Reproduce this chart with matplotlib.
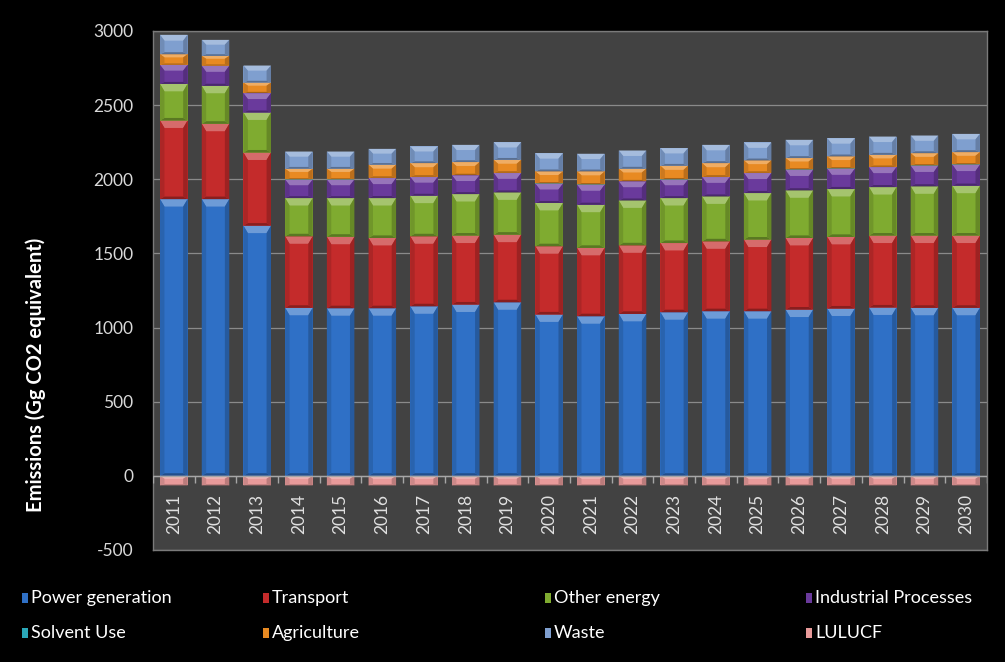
import matplotlib.pyplot as plt
import numpy as np
from matplotlib.patches import Polygon, Rectangle
from matplotlib.colors import to_rgb

years = [str(y) for y in range(2011, 2031)]

power = [1866, 1866, 1687, 1133, 1130, 1130, 1143, 1155, 1170, 1088,
         1076, 1092, 1103, 1110, 1110, 1121, 1128, 1135, 1133, 1133]
transport = [530, 508, 493, 482, 482, 474, 472, 465, 456, 460,
             461, 462, 467, 471, 483, 483, 483, 485, 487, 487]
other_energy = [247, 256, 270, 258, 261, 269, 274, 280, 285, 292,
                291, 303, 303, 303, 314, 321, 323, 327, 332, 336]
industrial = [128, 135, 130, 124, 124, 135, 126, 126, 131, 130,
              135, 128, 124, 131, 135, 139, 137, 135, 139, 142]
solvent = [2] * 20
agriculture = [70, 65, 70, 72, 72, 88, 92, 88, 87, 81,
               88, 84, 92, 92, 83, 77, 81, 81, 83, 83]
waste = [131, 108, 115, 116, 116, 107, 112, 116, 119, 123,
         119, 123, 119, 123, 121, 123, 123, 123, 119, 123]
lulucf = [-65] * 20

labels = ['Power generation', 'Transport', 'Other energy', 'Industrial Processes',
          'Solvent Use', 'Agriculture', 'Waste', 'LULUCF']
series = [power, transport, other_energy, industrial, solvent, agriculture, waste, lulucf]
colors = ['#2f70c6', '#c42b2b', '#7fab30', '#6a3a9c', '#2aa7b8', '#e88a22', '#7f9fcf', '#e89a9a']

plt.rcParams['font.family'] = ['Lato', 'DejaVu Sans']
plt.rcParams['axes.unicode_minus'] = False


def mix(c, other, t):
    c = np.array(to_rgb(c))
    return tuple(c * (1 - t) + np.array(other) * t)


def bevel(ax, rect, color):
    # fake the Excel bevel: light chevron on top, darker sides
    x0, y0 = rect.get_x(), rect.get_y()
    w, h = rect.get_width(), rect.get_height()
    if h < 0:
        y0, h = y0 + h, -h
    if h <= 5:
        return
    x1, y1 = x0 + w, y0 + h
    dx = w * 0.16
    dy = min(50, h * 0.3)
    top = Polygon([(x0, y1), (x1, y1), (x1 - dx, y1 - dy), (x0 + dx, y1 - dy)],
                  closed=True, fc=mix(color, (1, 1, 1), 0.3), ec='none', zorder=3)
    bot = Polygon([(x0, y0), (x1, y0), (x1 - dx, y0 + dy * 0.35), (x0 + dx, y0 + dy * 0.35)],
                  closed=True, fc=mix(color, (0, 0, 0), 0.3), ec='none', zorder=3)
    left = Polygon([(x0, y0), (x0 + dx, y0 + dy * 0.35), (x0 + dx, y1 - dy), (x0, y1)],
                   closed=True, fc=mix(color, (0, 0, 0), 0.12), ec='none', zorder=3)
    right = Polygon([(x1, y0), (x1 - dx, y0 + dy * 0.35), (x1 - dx, y1 - dy), (x1, y1)],
                    closed=True, fc=mix(color, (0, 0, 0), 0.2), ec='none', zorder=3)
    for p in (top, bot, left, right):
        ax.add_patch(p)


fig = plt.figure(figsize=(10.05, 6.62), dpi=100, facecolor='black')
ax = fig.add_axes([0.1522, 0.1692, 0.8299, 0.784])
ax.set_facecolor('#424242')

x = np.arange(len(years))
bottom = np.zeros(len(years))
for vals, col in zip(series[:-1], colors[:-1]):
    bars = ax.bar(x, vals, 0.66, bottom=bottom, color=col, zorder=2)
    for r in bars:
        bevel(ax, r, col)
    bottom += np.array(vals)
bars = ax.bar(x, lulucf, 0.66, color=colors[-1], zorder=2)
for r in bars:
    bevel(ax, r, colors[-1])

ax.set_xlim(-0.5, len(years) - 0.5)
ax.set_ylim(-500, 3000)
ax.set_yticks(np.arange(-500, 3001, 500))
ax.yaxis.grid(True, color='#8a8a8a', lw=0.9, zorder=1)
ax.set_axisbelow(True)
ax.tick_params(axis='y', length=0, pad=14, colors='#d9d9d9', labelsize=12.5)
ax.set_xticks([])
for s in ax.spines.values():
    s.set_color('#7a7a7a')
    s.set_linewidth(1)

# category axis at zero with small ticks between bars
ax.axhline(0, color='#a6a6a6', lw=1, zorder=4)
ax.vlines(np.arange(len(years) + 1) - 0.5, -45, 0, color='#a6a6a6', lw=1, zorder=4)
for xi, yr in zip(x, years):
    ax.text(xi, -120, yr, rotation=90, ha='center', va='top',
            color='#e0e0e0', fontsize=12.5)

fig.text(0.036, 0.434, 'Emissions (Gg CO2 equivalent)', rotation=90,
         ha='center', va='center', color='white', fontsize=14.5, fontweight='bold')

# legend, laid out like the Excel one
leg_x = [22, 263, 545, 806]
leg_y = [598, 633]
W, H = 1005, 662
for i, (lab, col) in enumerate(zip(labels, colors)):
    px = leg_x[i % 4]
    py = leg_y[i // 4]
    fig.patches.append(Rectangle((px / W, (H - py - 5) / H), 6 / W, 10 / H,
                                 transform=fig.transFigure, fc=col, ec='none'))
    fig.text((px + 9) / W, (H - py) / H, lab, ha='left', va='center',
             color='white', fontsize=13)

fig.savefig('out.png', dpi=100, facecolor='black')
